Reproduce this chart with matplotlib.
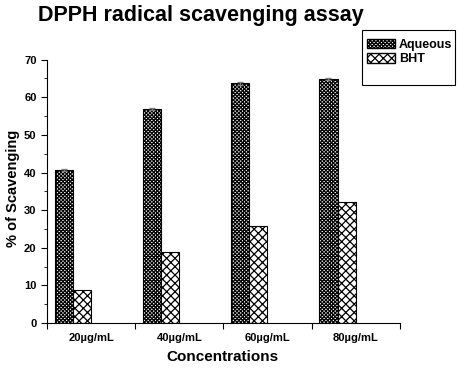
import numpy as np
import matplotlib
matplotlib.use("Agg")
from matplotlib import pyplot as plt
from matplotlib.patches import Patch, Rectangle

plt.rcParams['font.family'] = ['Liberation Sans', 'DejaVu Sans']
plt.rcParams['font.weight'] = 'bold'
plt.rcParams['hatch.linewidth'] = 0.9

concentrations = ['20µg/mL', '40µg/mL', '60µg/mL', '80µg/mL']
aqueous = [40.6, 56.9, 63.7, 64.8]
aqueous_err = [0.3, 0.3, 0.3, 0.3]
bht = [8.8, 18.9, 25.8, 32.1]

aq_hatch = 'xxxxxxxxx'
bht_hatch = 'xxxx'

fig = plt.figure(figsize=(4.59, 3.68), dpi=100)
ax = fig.add_axes([0.1024, 0.1223, 0.769, 0.7155])

x = np.arange(len(concentrations))
w = 0.205
ax.bar(x + 0.19, aqueous, w, color='white', edgecolor='black', hatch=aq_hatch,
       linewidth=0.8, yerr=aqueous_err, ecolor='gray', capsize=2,
       error_kw={'elinewidth': 0.8})
ax.bar(x + 0.395, bht, w, color='white', edgecolor='black', hatch=bht_hatch,
       linewidth=0.8)

ax.set_xlim(0, 4)
ax.set_ylim(0, 70)
ax.spines['top'].set_visible(False)
ax.spines['right'].set_visible(False)

ax.set_xticks(np.arange(0, 5))
ax.set_xticklabels([])
ax.set_xticks(x + 0.5, minor=True)
ax.set_xticklabels(concentrations, minor=True, fontsize=8, fontweight='bold')
ax.tick_params(axis='x', which='minor', length=0, pad=7)
ax.tick_params(axis='x', which='major', length=4, direction='out')

ax.set_yticks(np.arange(0, 71, 10))
ax.set_yticks(np.arange(5, 70, 10), minor=True)
ax.tick_params(axis='y', which='major', length=4, labelsize=8)
ax.tick_params(axis='y', which='minor', length=2)

fig.text(0.484, 0.029, 'Concentrations', fontsize=11, fontweight='bold',
         ha='center', va='center')
fig.text(0.028, 0.489, '% of Scavenging', fontsize=10.5, fontweight='bold',
         ha='center', va='center', rotation=90)
fig.text(0.438, 0.957, 'DPPH radical scavenging assay', fontsize=15.5,
         fontweight='bold', ha='center', va='center')

# legend box is taller than its two entries
fig.patches.append(Rectangle((0.7887, 0.769), 0.2026, 0.1495, transform=fig.transFigure,
                             facecolor='white', edgecolor='black', linewidth=0.8))
handles = [Patch(facecolor='white', edgecolor='black', hatch=aq_hatch, label='Aqueous'),
           Patch(facecolor='white', edgecolor='black', hatch=bht_hatch, label='BHT')]
fig.legend(handles=handles, loc='upper left', bbox_to_anchor=(0.7996, 0.895),
           fontsize=9, frameon=False, handlelength=2.24, handleheight=0.8,
           handletextpad=0.32, borderaxespad=0, borderpad=0, labelspacing=0.2)

fig.savefig('out.png', dpi=100)
